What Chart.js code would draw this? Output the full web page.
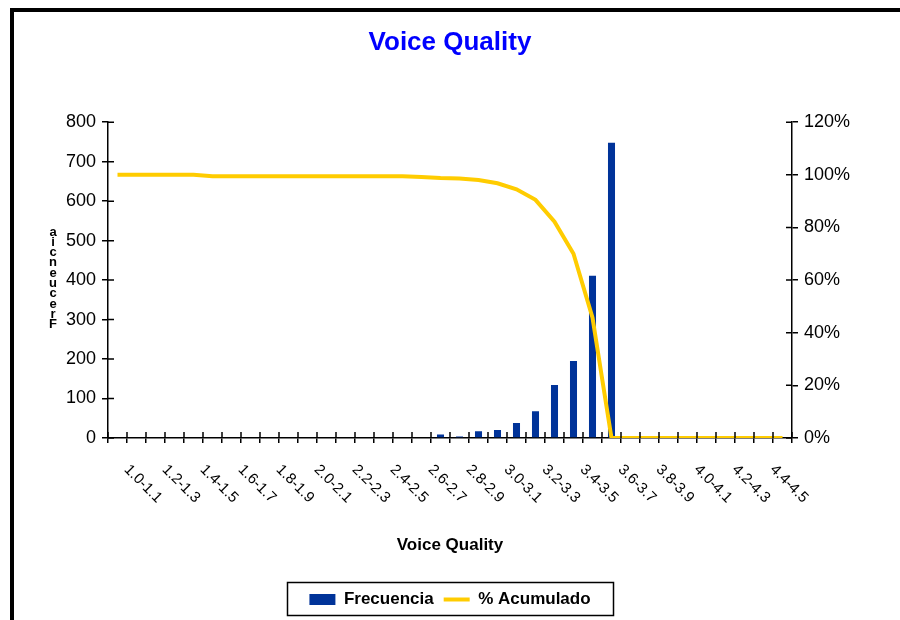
<!DOCTYPE html>
<html>
<head>
<meta charset="utf-8">
<title>Voice Quality</title>
<script src="https://cdn.jsdelivr.net/npm/chart.js@4.4.1/dist/chart.umd.min.js"></script>
<style>
  html, body { margin: 0; padding: 0; background: #fff; }
  #wrap { width: 900px; height: 620px; position: relative; }
</style>
</head>
<body>
<div id="wrap"><canvas id="voiceChart" width="900" height="620"></canvas></div>
<script>
// Categorias (rangos de Voice Quality)
const categorias = ['1.0-1.1', '1.1-1.2', '1.2-1.3', '1.3-1.4', '1.4-1.5', '1.5-1.6', '1.6-1.7', '1.7-1.8',
  '1.8-1.9', '1.9-2.0', '2.0-2.1', '2.1-2.2', '2.2-2.3', '2.3-2.4', '2.4-2.5', '2.5-2.6', '2.6-2.7',
  '2.7-2.8', '2.8-2.9', '2.9-3.0', '3.0-3.1', '3.1-3.2', '3.2-3.3', '3.3-3.4', '3.4-3.5', '3.5-3.6',
  '3.6-3.7', '3.7-3.8', '3.8-3.9', '3.9-4.0', '4.0-4.1', '4.1-4.2', '4.2-4.3', '4.3-4.4', '4.4-4.5', '4.5-4.6'];

// Frecuencia por rango
const frecuencia = [0, 0, 0, 0, 0, 0, 0, 0, 0, 0, 0, 0, 0, 0, 0, 0, 0,
  9, 4, 17, 20, 38, 68, 134, 195, 411, 748, 0, 0, 0, 0, 0, 0, 0, 0, 0];

// % acumulado
const acumulado = [100, 100, 100, 100, 100, 99.5, 99.5, 99.5, 99.5, 99.5, 99.5, 99.5, 99.5, 99.5, 99.5, 99.5, 99.2,
  98.8, 98.6, 98.0, 96.8, 94.5, 90.5, 82.2, 70.0, 45.7, 0, 0, 0, 0, 0, 0, 0, 0, 0, 0];

// Etiquetas de los ejes
const ticksFrecuencia = [0, 100, 200, 300, 400, 500, 600, 700, 800];
const ticksPorcentaje = [0, 20, 40, 60, 80, 100, 120];

const FONT = 'Arial, "Liberation Sans", sans-serif';

// marco negro (izquierda y arriba) + ticks que cruzan los ejes + titulo vertical "Frecuencia"
const extras = {
  id: 'extras',
  afterDraw(chart) {
    const c = chart.ctx;
    c.save();
    c.fillStyle = '#000';
    c.fillRect(10, 8, 4, 612);
    c.fillRect(10, 8, 890, 4);

    // parte interior de los ticks
    c.strokeStyle = '#000';
    c.lineWidth = 1.5;
    const x = chart.scales.x, y = chart.scales.y, y1 = chart.scales.y1;
    const half = (x.getPixelForValue(1) - x.getPixelForValue(0)) / 2;
    c.beginPath();
    for (let i = 0; i <= categorias.length; i++) {
      const px = x.getPixelForValue(i) - half;
      c.moveTo(px, x.top);
      c.lineTo(px, x.top - 6);
    }
    ticksFrecuencia.forEach(v => {
      const py = y.getPixelForValue(v);
      c.moveTo(y.right, py);
      c.lineTo(y.right + 6, py);
    });
    ticksPorcentaje.forEach(v => {
      const py = y1.getPixelForValue(v);
      c.moveTo(y1.left, py);
      c.lineTo(y1.left - 6, py);
    });
    c.stroke();

    // titulo del eje Y, letras apiladas
    const letras = 'Frecuencia'.split('').reverse();
    c.fillStyle = '#000';
    c.font = 'bold 13px ' + FONT;
    c.textAlign = 'center';
    c.textBaseline = 'middle';
    letras.forEach((l, i) => c.fillText(l, 53, 232 + i * 10.3));

    // borde de la leyenda
    c.lineWidth = 1.5;
    c.strokeRect(287.5, 582.5, 326, 33);
    c.restore();
  }
};

const ctx = document.getElementById('voiceChart').getContext('2d');

const voiceChart = new Chart(ctx, {
  type: 'bar',
  data: {
    labels: categorias,
    datasets: [{
      label: 'Frecuencia',
      data: frecuencia,
      backgroundColor: '#003399',
      borderWidth: 0,
      barPercentage: 0.37,
      categoryPercentage: 1,
      pointStyle: 'rect',
      yAxisID: 'y',
      order: 2
    }, {
      type: 'line',
      label: '% Acumulado',
      data: acumulado,
      borderColor: '#FFCC00',
      backgroundColor: '#FFCC00',
      borderWidth: 4,
      pointRadius: 0,
      tension: 0,
      pointStyle: 'line',
      yAxisID: 'y1',
      order: 1
    }]
  },
  options: {
    responsive: false,
    animation: false,
    layout: { padding: { left: 0, right: 0, top: 0, bottom: 2 } },
    plugins: {
      title: {
        display: true,
        text: 'Voice Quality',
        color: '#0000FF',
        font: { family: FONT, size: 26, weight: 'bold' },
        padding: { top: 27, bottom: 64 }
      },
      legend: {
        position: 'bottom',
        labels: {
          usePointStyle: true,
          pointStyleWidth: 26,
          boxHeight: 11,
          color: '#000',
          padding: 10,
          font: { family: FONT, size: 17, weight: 'bold' },
          sort: (a, b) => a.datasetIndex - b.datasetIndex
        }
      },
      tooltip: { enabled: false }
    },
    scales: {
      x: {
        offset: true,
        border: { color: '#000', width: 1.5 },
        grid: { offset: true, drawOnChartArea: false, color: '#000', lineWidth: 1.5, tickLength: 5 },
        ticks: {
          autoSkip: false,
          minRotation: -45,
          maxRotation: -45,
          labelOffset: 42,
          padding: 51,
          color: '#000',
          font: { family: FONT, size: 15 },
          callback: (v, i) => (i % 2 === 0 ? categorias[i] : '')
        },
        title: {
          display: true,
          text: 'Voice Quality',
          color: '#000',
          font: { family: FONT, size: 17, weight: 'bold' },
          padding: { top: 0, bottom: 25 }
        },
        afterFit: s => { s.height = 143; }
      },
      y: {
        position: 'left',
        min: 0,
        max: 800,
        border: { color: '#000', width: 1.5 },
        grid: { drawOnChartArea: false, color: '#000', lineWidth: 1.5, tickLength: 6 },
        ticks: {
          stepSize: 100,
          padding: 6,
          color: '#000',
          font: { family: FONT, size: 18 }
        },
        afterFit: s => { s.width = 108; }
      },
      y1: {
        position: 'right',
        min: 0,
        max: 120,
        border: { color: '#000', width: 1.5 },
        grid: { drawOnChartArea: false, color: '#000', lineWidth: 1.5, tickLength: 6 },
        ticks: {
          stepSize: 20,
          padding: 6,
          color: '#000',
          font: { family: FONT, size: 18 },
          callback: v => v + '%'
        },
        afterFit: s => { s.width = 108; }
      }
    }
  },
  plugins: [extras]
});
</script>
</body>
</html>
